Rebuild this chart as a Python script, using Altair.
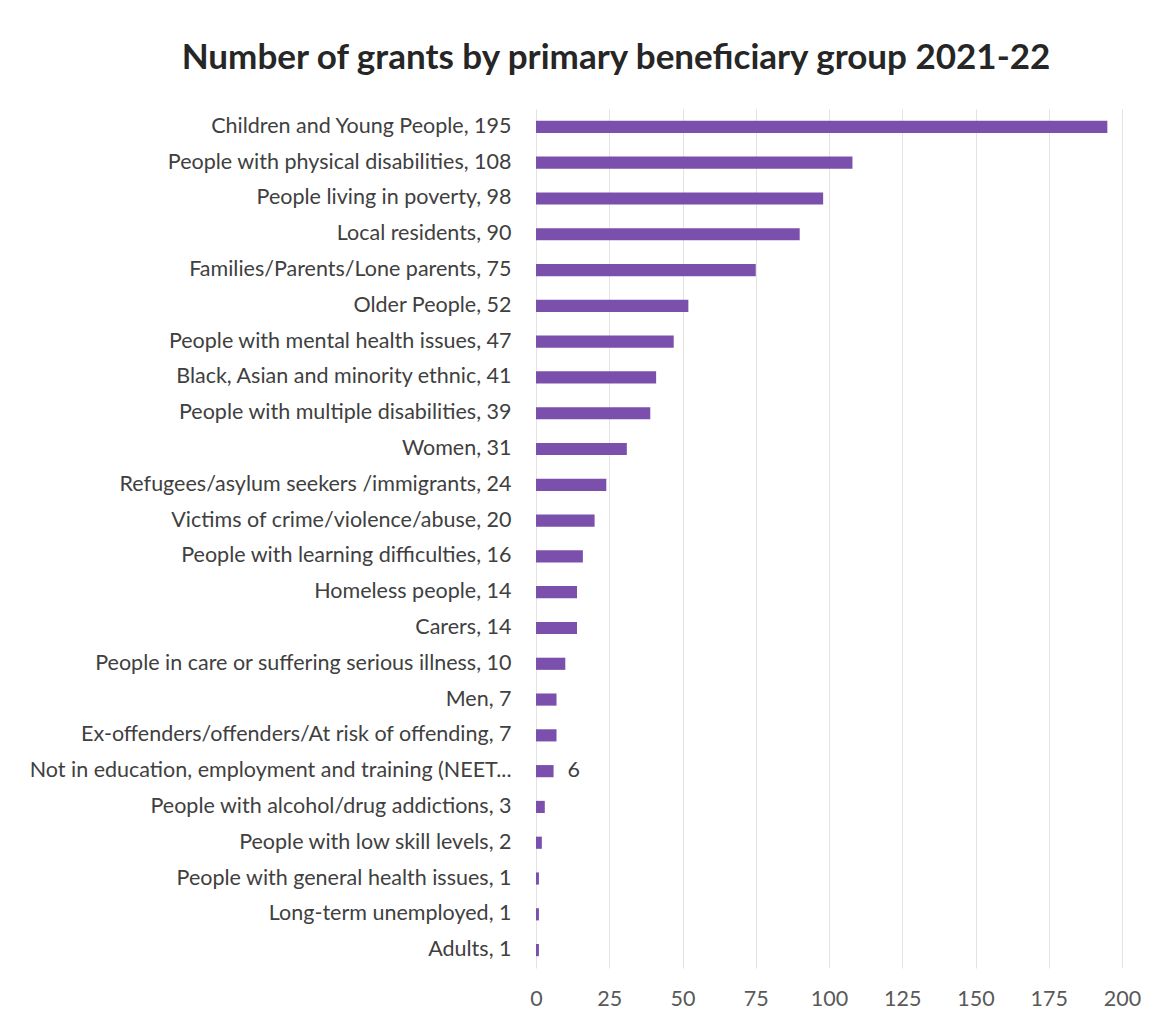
import altair as alt
import pandas as pd

categories = [
    "Children and Young People, 195",
    "People with physical disabilities, 108",
    "People living in poverty, 98",
    "Local residents, 90",
    "Families/Parents/Lone parents, 75",
    "Older People, 52",
    "People with mental health issues, 47",
    "Black, Asian and minority ethnic, 41",
    "People with multiple disabilities, 39",
    "Women, 31",
    "Refugees/asylum seekers /immigrants, 24",
    "Victims of crime/violence/abuse, 20",
    "People with learning difficulties, 16",
    "Homeless people, 14",
    "Carers, 14",
    "People in care or suffering serious illness, 10",
    "Men, 7",
    "Ex-offenders/offenders/At risk of offending, 7",
    "Not in education, employment and training (NEET...",
    "People with alcohol/drug addictions, 3",
    "People with low skill levels, 2",
    "People with general health issues, 1",
    "Long-term unemployed, 1",
    "Adults, 1",
]
values = [195, 108, 98, 90, 75, 52, 47, 41, 39, 31, 24, 20, 16, 14, 14, 10, 7, 7, 6, 3, 2, 1, 1, 1]
extra_labels = ["", "", "", "", "", "", "", "", "", "", "", "", "", "", "", "", "", "", "6", "", "", "", "", ""]
x_ticks = [0, 25, 50, 75, 100, 125, 150, 175, 200]

df = pd.DataFrame({"cat": categories, "value": values, "extra": extra_labels})

FONT = "Lato"
PURPLE = "#7B50AD"
FS = 21.5

y_enc = alt.Y("cat:N", sort=categories, title=None,
              scale=alt.Scale(paddingInner=0.66, paddingOuter=0.33),
              axis=alt.Axis(labelFontSize=FS, labelColor="#404040", labelFont=FONT,
                            labelLimit=700, labelPadding=25, ticks=False, domain=False, grid=False))
x_enc = alt.X("value:Q", title=None,
              scale=alt.Scale(domain=[0, 200], nice=False),
              axis=alt.Axis(values=x_ticks, labelFontSize=FS, labelColor="#595959", labelFont=FONT,
                            labelPadding=20, ticks=False, domain=False, labelFlush=False,
                            gridColor="#e3e3e3", gridWidth=1))

bars = alt.Chart(df).mark_bar(color=PURPLE).encode(x=x_enc, y=y_enc)

texts = alt.Chart(df).mark_text(align="left", dx=14, fontSize=FS, font=FONT, color="#404040").encode(
    x=x_enc, y=y_enc, text="extra:N")

chart = alt.layer(bars, texts).properties(
    width=586, height=859,
    background="white",
    title=alt.Title("Number of grants by primary beneficiary group 2021-22",
                    fontSize=35, font=FONT, fontWeight="bold", color="#262626",
                    anchor="middle", frame="group", dx=-213, offset=33),
    autosize=alt.AutoSizeParams(type="none"),
    padding={"left": 536, "top": 109, "right": 35, "bottom": 54},
).configure_view(stroke=None, strokeWidth=0)

chart.save("out.html", embed_options={"renderer": "svg", "actions": False})
